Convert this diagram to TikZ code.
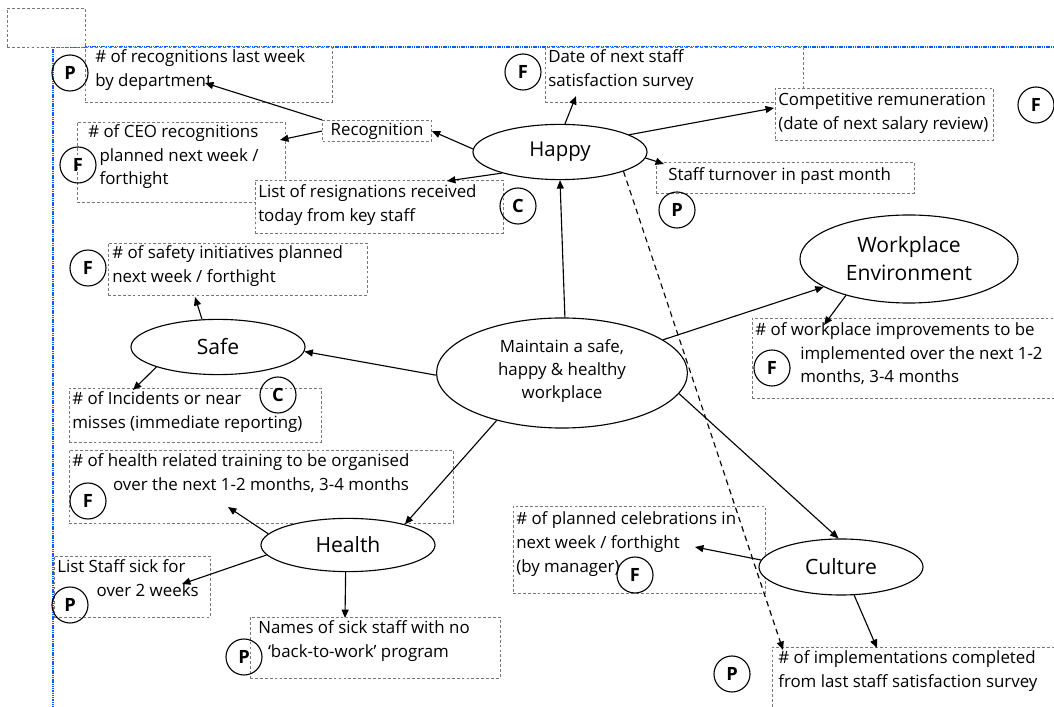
\documentclass[tikz,border=0pt]{standalone}
\usepackage{fontspec}
\setmainfont{Open Sans}
\setsansfont{Open Sans}
\usetikzlibrary{shapes.geometric,arrows.meta,fit}
\definecolor{frameblue}{RGB}{0,95,255}
\definecolor{boxgray}{RGB}{120,120,120}
\tikzset{
  boxd/.style={draw=boxgray, dash pattern=on 2pt off 1.5pt, fill=white, line width=0.6pt, inner sep=0pt},
  txt/.style={font=\fontsize{12}{17}\selectfont, align=left, inner sep=0pt, anchor=north west},
  ell/.style={ellipse, draw, line width=0.8pt, fill=white, inner sep=0pt, align=center},
  circ/.style={circle, draw, line width=0.8pt, minimum size=0.9cm, inner sep=0pt, font=\fontsize{13}{13}\selectfont\bfseries\sffamily},
  arr/.style={-{Triangle[length=6pt,width=5pt]}, line width=0.8pt},
  darr/.style={-{Triangle[length=6pt,width=5pt]}, line width=0.8pt, dash pattern=on 4pt off 3pt},
  bframe/.style={draw=frameblue, line width=1.8pt, dash pattern=on 1pt off 0.6pt}
}
\begin{document}
\begin{tikzpicture}[x=0.025cm,y=-0.025cm]
\useasboundingbox (0,0) rectangle (1054,707);
% blue frame
\coordinate (fa) at (53,712);
\coordinate (fb) at (53,47);
\coordinate (fc) at (1060,47);
\draw[bframe] (fa) -- (fb) -- (fc);
% empty box
\node[boxd, fit={(7,8)(85,47)}] (empty) {};
% boxes
\node[boxd, fit={(85,47)(332,102)}] (b1) {};
\node[boxd, fit={(77,122)(285,202)}] (b3) {};
\node[boxd, fit={(255,180)(503,233)}] (b4) {};
\node[boxd, fit={(545,47)(803,102)}] (b5) {};
\node[boxd, fit={(775,88)(993,140)}] (b6) {};
\node[boxd, fit={(656,162)(914,193)}] (b7) {};
\node[boxd, fit={(108,243)(367,295)}] (b8) {};
\node[boxd, fit={(69,388)(321,442)}] (b9) {};
\node[boxd, fit={(69,450)(453,523)}] (b10) {};
\node[boxd, fit={(54,556)(210,617)}] (b11) {};
\node[boxd, fit={(250,617)(500,678)}] (b12) {};
\node[boxd, fit={(752,318)(1062,398)}] (b13) {};
\node[boxd, fit={(513,506)(765,593)}] (b14) {};
\node[boxd, fit={(772,647)(1062,714)}] (b15) {};
\node[boxd, font=\fontsize{12}{12}\selectfont, minimum width=2.72cm, minimum height=0.53cm] (recog) at (377,131) {Recognition};
% texts
\node[txt] (t1) at (95,49) {\# of recognitions last week\\by department};
\node[txt] (t3) at (88,124) {\# of CEO recognitions\\\hspace*{8pt}planned next week /\\\hspace*{8pt}forthight};
\node[txt] (t4) at (258,184) {List of resignations received\\today from key staff};
\node[txt] (t5) at (548,49) {Date of next staff\\satisfaction survey};
\node[txt] (t6) at (778,93) {Competitive remuneration\\(date of next salary review)};
\node[txt] (t7) at (668,167) {Staff turnover in past month};
\node[txt] (t8) at (112,245) {\# of safety initiatives planned\\next week / forthight};
\node[txt] (t9) at (72,391) {\# of Incidents or near\\misses (immediate reporting)};
\node[txt] (t10) at (72,453) {\# of health related training to be organised\\\hspace*{29pt}over the next 1-2 months, 3-4 months};
\node[txt] (t11) at (57,559) {List Staff sick for\\\hspace*{28pt}over 2 weeks};
\node[txt] (t12) at (258,620) {Names of sick staff with no\\\hspace*{7pt}`back-to-work' program};
\node[txt] (t13) at (755,322) {\# of workplace improvements to be\\\hspace*{32pt}implemented over the next 1-2\\\hspace*{32pt}months, 3-4 months};
\node[txt] (t14) at (516,511) {\# of planned celebrations in\\next week / forthight\\(by manager)};
\node[txt] (t15) at (778,650) {\# of implementations completed\\from last staff satisfaction survey};
% ellipses
\node[ell, minimum width=4.35cm, minimum height=1.38cm, font=\fontsize{14.5}{16}\selectfont] (happy) at (560,152) {Happy};
\node[ell, minimum width=6.27cm, minimum height=2.75cm] (central) at (562,373) {};
\node[align=center, inner sep=0pt, font=\fontsize{12}{16.5}\selectfont] (centraltxt) at (562,371) {Maintain a safe,\\happy \& healthy\\workplace};
\node[ell, minimum width=4.35cm, minimum height=1.38cm, font=\fontsize{15}{16}\selectfont] (safe) at (218,347) {Safe};
\node[ell, minimum width=5.45cm, minimum height=2.2cm, font=\fontsize{15}{20}\selectfont] (we) at (909,259) {Workplace\\Environment};
\node[ell, minimum width=4.35cm, minimum height=1.33cm, font=\fontsize{15}{16}\selectfont] (health) at (348,545) {Health};
\node[ell, minimum width=4.1cm, minimum height=1.4cm, font=\fontsize{15}{16}\selectfont] (culture) at (841,567) {Culture};
% arrow end points
\coordinate (e1) at (205,83);
\coordinate (e3) at (280,140);
\coordinate (e4) at (447,181);
\coordinate (e5) at (576,96);
\coordinate (e6) at (774,108);
\coordinate (e7) at (664,164);
\coordinate (e15d) at (783,650);
\coordinate (e8) at (195,297);
\coordinate (e9) at (133,390);
\coordinate (e13) at (824,325);
\coordinate (e10) at (228,507);
\coordinate (e11) at (182,584);
\coordinate (e12) at (345,618);
\coordinate (e14) at (695,547);
\coordinate (e15) at (877,648);
% arrows
\draw[arr] (central.87) -- (happy.south);
\draw[arr] (central.181) -- (safe.-3);
\draw[arr] (central) -- (we);
\draw[arr] (central.216) -- (health.20);
\draw[arr] (central.-10) -- (culture.95);
\draw[arr] (happy.178) -- (recog.east);
\draw[arr] (recog.north west) -- (e1);
\draw[arr] (recog.west) -- (e3);
\draw[arr] (happy.200) -- (e4);
\draw[arr] (happy.80) -- (e5);
\draw[arr] (happy.14) -- (e6);
\draw[arr] (happy.-4) -- (e7);
\draw[darr] (happy.-17) -- (e15d);
\draw[arr] (safe.120) -- (e8);
\draw[arr] (safe.198) -- (e9);
\draw[arr] (we.210) -- (e13);
\draw[arr] (health.172) -- (e10);
\draw[arr] (health.187) -- (e11);
\draw[arr] (health.265) -- (e12);
\draw[arr] (culture.175) -- (e14);
\draw[arr] (culture.-65) -- (e15);
% circles
\node[circ] (c1) at (70,73) {P};
\node[circ] (c3) at (78,165) {F};
\node[circ] (c4) at (518,206) {C};
\node[circ] (c5) at (523,72) {F};
\node[circ] (c6) at (1036,105) {F};
\node[circ] (c7) at (677,210) {P};
\node[circ] (c8) at (88,268) {F};
\node[circ] (c9) at (278,395) {C};
\node[circ] (c10) at (88,501) {F};
\node[circ] (c11) at (70,605) {P};
\node[circ] (c12) at (244,657) {P};
\node[circ] (c13) at (772,368) {F};
\node[circ] (c14) at (635,575) {F};
\node[circ] (c15) at (732,674) {P};
\end{tikzpicture}
\end{document}
